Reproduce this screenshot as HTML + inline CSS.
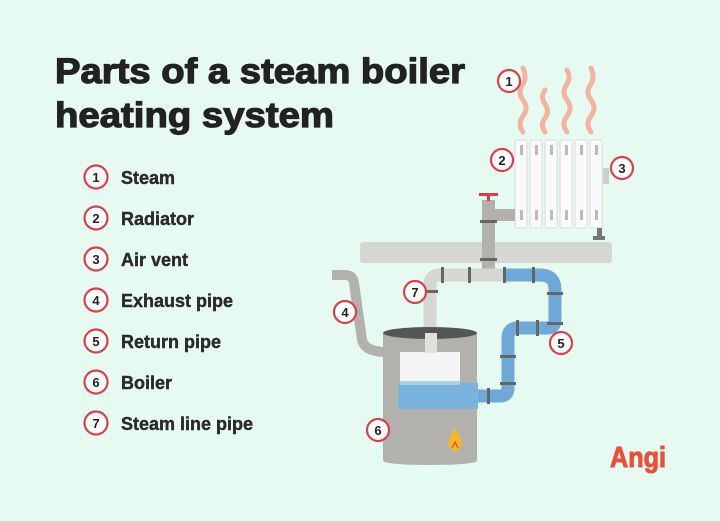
<!DOCTYPE html>
<html><head><meta charset="utf-8"><style>
html,body{margin:0;padding:0;background:#e7faf1;}
svg{display:block;font-family:"Liberation Sans",sans-serif;}
</style></head><body>
<svg width="720" height="521" viewBox="0 0 720 521" xmlns="http://www.w3.org/2000/svg">
<rect width="720" height="521" fill="#e7faf1"/>
<text x="55" y="83" font-size="35" font-weight="bold" fill="#222" stroke="#222" stroke-width="1.2" textLength="410" lengthAdjust="spacingAndGlyphs">Parts of a steam boiler</text>
<text x="55" y="127" font-size="35" font-weight="bold" fill="#222" stroke="#222" stroke-width="1.2" textLength="279" lengthAdjust="spacingAndGlyphs">heating system</text>
<g font-size="18" font-weight="bold" fill="#2a2a2a">
<g fill="#fff" stroke="#d6424a" stroke-width="2.2">
<circle cx="96" cy="177" r="11.5"/><circle cx="96" cy="218" r="11.5"/><circle cx="96" cy="259" r="11.5"/><circle cx="96" cy="300" r="11.5"/><circle cx="96" cy="341" r="11.5"/><circle cx="96" cy="382" r="11.5"/><circle cx="96" cy="423" r="11.5"/>
</g>
<g font-size="13" text-anchor="middle" fill="#222">
<text x="96" y="182">1</text><text x="96" y="223">2</text><text x="96" y="264">3</text><text x="96" y="305">4</text><text x="96" y="346">5</text><text x="96" y="387">6</text><text x="96" y="428">7</text>
</g>
<g stroke="#2a2a2a" stroke-width="0.4">
<text x="121" y="184">Steam</text><text x="121" y="225">Radiator</text><text x="121" y="266">Air vent</text><text x="121" y="307">Exhaust pipe</text><text x="121" y="348">Return pipe</text><text x="121" y="389">Boiler</text><text x="121" y="430">Steam line pipe</text>
</g>
</g>
<!-- steam -->
<g fill="none" stroke="#f2b3a3" stroke-width="5" stroke-linecap="round">
<path d="M523 132 q-6 -8 0 -16 q6 -8 0 -16 q-6 -8 0 -16 q4 -6 0 -16"/>
<path d="M545 132 q-5 -7 0 -14 q5 -7 0 -14 q-5 -7 0 -14"/>
<path d="M567 132 q-6 -8 0 -16 q6 -8 0 -16 q-6 -8 0 -16 q4 -6 0 -14"/>
<path d="M591 132 q-6 -8 0 -16 q6 -8 0 -16 q-6 -8 0 -16 q4 -6 0 -16"/>
</g>
<!-- radiator -->
<g fill="#fafafa" stroke="#d9dad8" stroke-width="1">
<rect x="515" y="140" width="12" height="88" rx="2"/><rect x="530" y="140" width="12" height="88" rx="2"/><rect x="545" y="140" width="12" height="88" rx="2"/><rect x="560" y="140" width="12" height="88" rx="2"/><rect x="575" y="140" width="12" height="88" rx="2"/><rect x="590" y="140" width="12" height="88" rx="2"/>
</g>
<g fill="#bbb">
<rect x="520" y="145" width="3" height="10"/><rect x="535" y="145" width="3" height="10"/><rect x="550" y="145" width="3" height="10"/><rect x="565" y="145" width="3" height="10"/><rect x="580" y="145" width="3" height="10"/><rect x="595" y="145" width="3" height="10"/>
<rect x="520" y="210" width="3" height="10"/><rect x="535" y="210" width="3" height="10"/><rect x="550" y="210" width="3" height="10"/><rect x="565" y="210" width="3" height="10"/><rect x="580" y="210" width="3" height="10"/><rect x="595" y="210" width="3" height="10"/>
</g>
<rect x="603" y="168" width="6" height="16" fill="#ccc"/>
<rect x="597" y="228" width="5" height="10" fill="#777"/><rect x="593" y="236" width="12" height="4" fill="#777"/>
<rect x="360" y="242" width="252" height="21" rx="3" fill="#d6d6d2"/>
<!-- vertical pipe with valve -->
<rect x="482" y="200" width="13" height="72" fill="#b3b1ad"/>
<rect x="495" y="209" width="20" height="12" fill="#b3b1ad"/>
<rect x="480" y="220" width="17" height="3" fill="#666"/><rect x="480" y="258" width="17" height="3" fill="#666"/>
<rect x="479" y="193" width="19" height="3" fill="#d6424a"/><rect x="487" y="195" width="3" height="6" fill="#d6424a"/>
<!-- pipes -->
<path d="M430 355 V285 q0 -10 10 -10 H505" fill="none" stroke="#d6d6d2" stroke-width="13"/>
<path d="M505 275 H540 q15 0 15 15 V320 q0 8 -8 8 H518 q-10 0 -10 10 V388 q0 8 -8 8 H475" fill="none" stroke="#6fa9d8" stroke-width="13"/>
<g fill="#666">
<rect x="441" y="267" width="3" height="16"/><rect x="468" y="267" width="3" height="16"/><rect x="503" y="267" width="3" height="16"/><rect x="532" y="267" width="3" height="16"/>
<rect x="547" y="292" width="16" height="3"/><rect x="547" y="322" width="16" height="3"/>
<rect x="516" y="320" width="3" height="16"/><rect x="536" y="320" width="3" height="16"/>
<rect x="500" y="355" width="16" height="3"/><rect x="500" y="382" width="16" height="3"/>
<rect x="487" y="388" width="3" height="16"/>
<rect x="422" y="290" width="16" height="3"/>
</g>
<!-- exhaust -->
<path d="M332 275 H345 q8 0 9 8 L362 340 q3 12 25 12" fill="none" stroke="#b3b1ad" stroke-width="10"/>
<!-- boiler -->
<rect x="383" y="333" width="94" height="127" fill="#b3b1ad"/>
<ellipse cx="430" cy="461" rx="47" ry="4" fill="#b3b1ad"/>
<ellipse cx="430" cy="333" rx="47" ry="6" fill="#555"/>
<rect x="400" y="352" width="60" height="30" fill="#f4f4f4"/>
<rect x="425" y="333" width="12" height="20" fill="#e0e0dc"/>
<rect x="398" y="383" width="80" height="26" fill="#7ab3dc"/>
<rect x="400" y="381" width="60" height="4" fill="#a8d0ec"/>
<path d="M455 428 q-8 12 -6 18 q2 5 6 5 q4 0 6 -5 q2 -6 -6 -18z" fill="#f3b728"/>
<path d="M452 448 l3 -6 l3 6" fill="none" stroke="#e05a2a" stroke-width="1.5"/>
<!-- callout circles -->
<g fill="#fff" stroke="#d6424a" stroke-width="2.2">
<circle cx="509" cy="81" r="11"/><circle cx="502" cy="160" r="11"/><circle cx="622" cy="168" r="11"/><circle cx="345" cy="312" r="11"/><circle cx="561" cy="343" r="11"/><circle cx="378" cy="430" r="11"/><circle cx="415" cy="292" r="11"/>
</g>
<g font-size="13" font-weight="bold" text-anchor="middle" fill="#222">
<text x="509" y="86">1</text><text x="502" y="165">2</text><text x="622" y="173">3</text><text x="345" y="317">4</text><text x="561" y="348">5</text><text x="378" y="435">6</text><text x="415" y="297">7</text>
</g>
<text x="610" y="467" font-size="29" font-weight="bold" fill="#e8503a" stroke="#e8503a" stroke-width="1" textLength="56" lengthAdjust="spacingAndGlyphs">Angi</text>
</svg>
</body></html>
